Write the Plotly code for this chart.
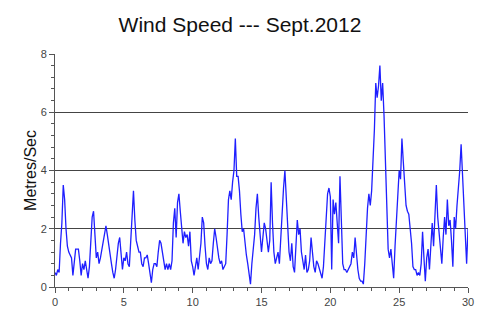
import plotly.graph_objects as go

# Wind speed sampled every 0.1 day, 1 Sept (day 0) to day 30
speed_0_5 = [0.5, 0.4, 0.6, 0.5, 1.5, 2.2, 3.5, 3.0, 2.0, 1.4,
             1.2, 1.1, 1.0, 0.4, 1.0, 1.3, 1.3, 1.3, 0.9, 0.4,
             0.8, 0.6, 0.9, 0.6, 0.3, 0.7, 1.5, 2.4, 2.6, 1.9,
             1.0, 1.2, 0.8, 1.0, 1.3, 1.6, 1.9, 2.1, 1.8, 1.4,
             1.0, 0.8, 0.5, 0.3, 0.6, 1.1, 1.5, 1.7, 1.2, 0.6]
speed_5_10 = [1.0, 0.9, 1.2, 0.8, 0.7, 1.5, 2.5, 3.3, 2.3, 1.6,
              1.4, 1.2, 1.2, 0.8, 0.7, 1.0, 1.0, 1.1, 0.8, 0.5,
              0.15, 0.6, 0.8, 0.8, 0.7, 1.2, 1.6, 1.5, 1.2, 0.9,
              0.6, 0.8, 0.6, 0.8, 0.6, 0.9, 2.2, 2.7, 1.7, 2.9,
              3.2, 2.6, 1.9, 1.5, 1.9, 1.7, 1.8, 1.4, 1.9, 0.9]
speed_10_15 = [0.7, 0.4, 0.7, 1.0, 0.6, 1.0, 1.5, 2.4, 2.2, 1.4,
               0.8, 0.6, 1.0, 0.8, 0.9, 1.5, 2.0, 1.7, 1.3, 1.0,
               0.8, 0.9, 0.6, 0.7, 0.8, 1.8, 3.0, 3.3, 3.0, 3.6,
               4.0, 5.1, 3.8, 3.8, 3.3, 2.5, 1.9, 2.0, 1.4, 1.1,
               0.8, 0.5, 0.1, 0.8, 1.3, 1.8, 2.7, 3.2, 2.4, 1.7]
speed_15_20 = [1.2, 1.7, 2.2, 2.0, 1.5, 1.2, 1.6, 3.6, 2.2, 1.2,
               0.8, 1.0, 1.2, 0.8, 1.8, 2.6, 3.4, 4.0, 3.0, 2.0,
               1.2, 0.9, 1.5, 0.7, 0.5, 1.4, 2.3, 1.8, 2.0, 1.2,
               0.9, 0.6, 1.1, 0.5, 0.6, 0.9, 1.7, 1.2, 0.7, 0.5,
               0.9, 0.8, 0.6, 0.5, 0.3, 0.7, 1.5, 2.3, 3.2, 3.4]
speed_20_25 = [3.1, 0.6, 3.0, 2.5, 2.9, 2.2, 1.5, 3.8, 1.8, 0.8,
               0.6, 0.6, 0.5, 0.6, 0.7, 0.8, 1.2, 1.0, 1.7, 1.0,
               0.6, 0.3, 0.2, 0.2, 0.1, 0.8, 1.9, 2.7, 3.2, 2.8,
               3.3, 4.2, 5.4, 7.0, 6.5, 6.9, 7.6, 6.4, 7.0, 5.9,
               4.2, 2.5, 1.3, 1.0, 1.3, 0.8, 0.3, 1.4, 2.4, 3.4]
speed_25_30 = [4.0, 3.7, 5.1, 4.3, 3.4, 2.8, 2.6, 2.5, 2.0, 1.5,
               0.7, 0.6, 0.6, 0.4, 0.5, 0.4, 0.8, 1.9, 1.0, 0.2,
               1.0, 1.3, 0.6, 1.5, 2.2, 1.4, 2.4, 3.5, 2.4, 1.8,
               1.2, 0.8, 1.7, 2.4, 1.8, 3.0, 2.1, 2.3, 1.6, 0.7,
               2.4, 2.0, 2.8, 3.3, 4.0, 4.9, 4.0, 3.0, 1.8, 0.8,
               2.0]

speed = speed_0_5 + speed_5_10 + speed_10_15 + speed_15_20 + speed_20_25 + speed_25_30
days = [i / 10 for i in range(len(speed))]

x_ticks = [0, 5, 10, 15, 20, 25, 30]
y_ticks = [0, 2, 4, 6, 8]

fig = go.Figure()
fig.add_trace(go.Scatter(x=days, y=speed, mode="lines",
                         line=dict(color="#1f1fff", width=1.3), showlegend=False))

axis_font = dict(family="Liberation Sans, Arial, sans-serif", size=11, color="#444")
fig.update_layout(
    width=492, height=323,
    margin=dict(l=47, r=32, t=46, b=44),
    paper_bgcolor="white", plot_bgcolor="white",
    font=dict(family="Liberation Sans, Arial, sans-serif"),
    title=dict(text="Wind Speed --- Sept.2012", x=0.448, xref="paper", xanchor="center",
               y=0.947, yref="container", yanchor="middle",
               font=dict(size=21, color="#111")),
    xaxis=dict(range=[0, 30], tickvals=x_ticks, ticks="outside", ticklen=5, tickcolor="#555",
               showline=True, linecolor="#555", linewidth=1, showgrid=False, zeroline=False,
               tickfont=axis_font, automargin=False,
               minor=dict(dtick=1, ticks="outside", ticklen=3, tickcolor="#555", showgrid=False)),
    yaxis=dict(range=[0, 8], tickvals=y_ticks, ticks="outside", ticklen=5, tickcolor="#555",
               showline=True, linecolor="#555", linewidth=1, showgrid=True,
               gridcolor="#444", gridwidth=1, zeroline=False, tickfont=axis_font,
               automargin=False,
               title=dict(text="Metres/Sec", font=dict(size=16, color="#111"), standoff=0),
               minor=dict(dtick=0.4, ticks="outside", ticklen=3, tickcolor="#555", showgrid=False)),
)

fig.write_html("out.html")
